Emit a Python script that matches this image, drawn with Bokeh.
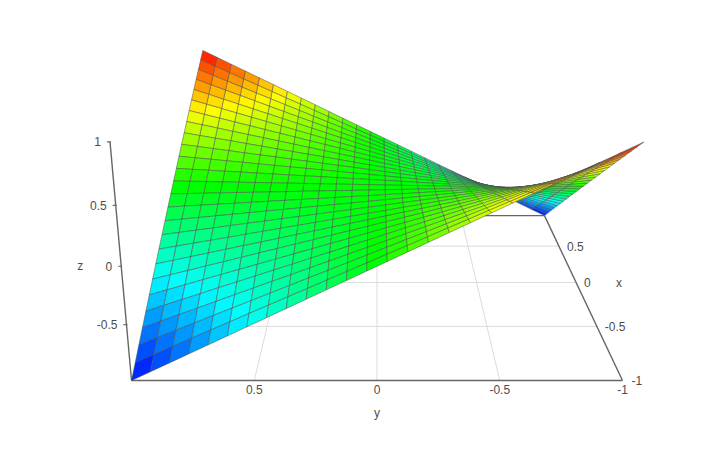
import colorsys
from bokeh.plotting import figure
from bokeh.models import Range1d
from bokeh.core.properties import value
from bokeh.embed import file_html
from bokeh.resources import INLINE

# ---------- data ----------
x_values = [-1, -.92, -.84, -.76, -.68, -.6, -.52, -.44, -.36, -.28, -.2, -.12, -.04,
            .04, .12, .2, .28, .36, .44, .52, .6, .68, .76, .84, .92, 1]
y_values = [-1, -.92, -.84, -.76, -.68, -.6, -.52, -.44, -.36, -.28, -.2, -.12, -.04,
            .04, .12, .2, .28, .36, .44, .52, .6, .68, .76, .84, .92, 1]
z_rows = [
 [1,.92,.84,.76,.68,.6,.52,.44,.36,.28,.2,.12,.04,-.04,-.12,-.2,-.28,-.36,-.44,-.52,-.6,-.68,-.76,-.84,-.92,-1],
 [.92,.846,.773,.699,.626,.552,.478,.405,.331,.258,.184,.11,.037,-.037,-.11,-.184,-.258,-.331,-.405,-.478,-.552,-.626,-.699,-.773,-.846,-.92],
 [.84,.773,.706,.638,.571,.504,.437,.37,.302,.235,.168,.101,.034,-.034,-.101,-.168,-.235,-.302,-.37,-.437,-.504,-.571,-.638,-.706,-.773,-.84],
 [.76,.699,.638,.578,.517,.456,.395,.334,.274,.213,.152,.091,.03,-.03,-.091,-.152,-.213,-.274,-.334,-.395,-.456,-.517,-.578,-.638,-.699,-.76],
 [.68,.626,.571,.517,.462,.408,.354,.299,.245,.19,.136,.082,.027,-.027,-.082,-.136,-.19,-.245,-.299,-.354,-.408,-.462,-.517,-.571,-.626,-.68],
 [.6,.552,.504,.456,.408,.36,.312,.264,.216,.168,.12,.072,.024,-.024,-.072,-.12,-.168,-.216,-.264,-.312,-.36,-.408,-.456,-.504,-.552,-.6],
 [.52,.478,.437,.395,.354,.312,.27,.229,.187,.146,.104,.062,.021,-.021,-.062,-.104,-.146,-.187,-.229,-.27,-.312,-.354,-.395,-.437,-.478,-.52],
 [.44,.405,.37,.334,.299,.264,.229,.194,.158,.123,.088,.053,.018,-.018,-.053,-.088,-.123,-.158,-.194,-.229,-.264,-.299,-.334,-.37,-.405,-.44],
 [.36,.331,.302,.274,.245,.216,.187,.158,.13,.101,.072,.043,.014,-.014,-.043,-.072,-.101,-.13,-.158,-.187,-.216,-.245,-.274,-.302,-.331,-.36],
 [.28,.258,.235,.213,.19,.168,.146,.123,.101,.078,.056,.034,.011,-.011,-.034,-.056,-.078,-.101,-.123,-.146,-.168,-.19,-.213,-.235,-.258,-.28],
 [.2,.184,.168,.152,.136,.12,.104,.088,.072,.056,.04,.024,.008,-.008,-.024,-.04,-.056,-.072,-.088,-.104,-.12,-.136,-.152,-.168,-.184,-.2],
 [.12,.11,.101,.091,.082,.072,.062,.053,.043,.034,.024,.014,.005,-.005,-.014,-.024,-.034,-.043,-.053,-.062,-.072,-.082,-.091,-.101,-.11,-.12],
 [.04,.037,.034,.03,.027,.024,.021,.018,.014,.011,.008,.005,.002,-.002,-.005,-.008,-.011,-.014,-.018,-.021,-.024,-.027,-.03,-.034,-.037,-.04],
 [-.04,-.037,-.034,-.03,-.027,-.024,-.021,-.018,-.014,-.011,-.008,-.005,-.002,.002,.005,.008,.011,.014,.018,.021,.024,.027,.03,.034,.037,.04],
 [-.12,-.11,-.101,-.091,-.082,-.072,-.062,-.053,-.043,-.034,-.024,-.014,-.005,.005,.014,.024,.034,.043,.053,.062,.072,.082,.091,.101,.11,.12],
 [-.2,-.184,-.168,-.152,-.136,-.12,-.104,-.088,-.072,-.056,-.04,-.024,-.008,.008,.024,.04,.056,.072,.088,.104,.12,.136,.152,.168,.184,.2],
 [-.28,-.258,-.235,-.213,-.19,-.168,-.146,-.123,-.101,-.078,-.056,-.034,-.011,.011,.034,.056,.078,.101,.123,.146,.168,.19,.213,.235,.258,.28],
 [-.36,-.331,-.302,-.274,-.245,-.216,-.187,-.158,-.13,-.101,-.072,-.043,-.014,.014,.043,.072,.101,.13,.158,.187,.216,.245,.274,.302,.331,.36],
 [-.44,-.405,-.37,-.334,-.299,-.264,-.229,-.194,-.158,-.123,-.088,-.053,-.018,.018,.053,.088,.123,.158,.194,.229,.264,.299,.334,.37,.405,.44],
 [-.52,-.478,-.437,-.395,-.354,-.312,-.27,-.229,-.187,-.146,-.104,-.062,-.021,.021,.062,.104,.146,.187,.229,.27,.312,.354,.395,.437,.478,.52],
 [-.6,-.552,-.504,-.456,-.408,-.36,-.312,-.264,-.216,-.168,-.12,-.072,-.024,.024,.072,.12,.168,.216,.264,.312,.36,.408,.456,.504,.552,.6],
 [-.68,-.626,-.571,-.517,-.462,-.408,-.354,-.299,-.245,-.19,-.136,-.082,-.027,.027,.082,.136,.19,.245,.299,.354,.408,.462,.517,.571,.626,.68],
 [-.76,-.699,-.638,-.578,-.517,-.456,-.395,-.334,-.274,-.213,-.152,-.091,-.03,.03,.091,.152,.213,.274,.334,.395,.456,.517,.578,.638,.699,.76],
 [-.84,-.773,-.706,-.638,-.571,-.504,-.437,-.37,-.302,-.235,-.168,-.101,-.034,.034,.101,.168,.235,.302,.37,.437,.504,.571,.638,.706,.773,.84],
 [-.92,-.846,-.773,-.699,-.626,-.552,-.478,-.405,-.331,-.258,-.184,-.11,-.037,.037,.11,.184,.258,.331,.405,.478,.552,.626,.699,.773,.846,.92],
 [-1,-.92,-.84,-.76,-.68,-.6,-.52,-.44,-.36,-.28,-.2,-.12,-.04,.04,.12,.2,.28,.36,.44,.52,.6,.68,.76,.84,.92,1],
]
x_ticks = [.5, 0, -.5, -1]
y_ticks = [.5, 0, -.5, -1]
z_ticks = [-.5, 0, .5, 1]
tick_text = {.5: "0.5", 0: "0", -.5: "-0.5", -1: "-1", 1: "1"}
x_min, x_max, y_min, y_max, z_min, z_max = -1, 1, -1, 1, -1, 1

# ---------- camera (a perspective view, x running away from the viewer) ----------
CX, HW, P, Q, R = 376.5, 199.1, .1889, -.0278, .0049
S0, SX, SZ, SXZ = 282.0, -26.26, -100.35, 1.05

def depth(x, z):
    return 1 + P * x + (Q + R * x) * (z + 1)

def project(x, y, z):
    w = depth(x, z)
    return CX - HW * y / w, (S0 + SX * x + (SZ + SXZ * x) * (z + 1)) / w

def hue_colour(z):
    hue = (1 - (z - z_min) / (z_max - z_min)) * 240 / 360
    r, g, b = colorsys.hsv_to_rgb(hue, 1, 1)
    return "#%02x%02x%02x" % (round(r * 255), round(g * 255), round(b * 255))

# ---------- figure: data space is the page's pixels ----------
p = figure(width=704, height=439, output_backend="svg", toolbar_location=None,
           x_axis_location=None, y_axis_location=None,
           x_range=Range1d(0, 704), y_range=Range1d(439, 0),
           min_border=0, outline_line_color=None, background_fill_color="white")
p.grid.visible = False

GRID, AXIS, TEXT = "#dcdcdc", "#666666", "#4d4d4d"

def seg3d(a, b, color, width):
    (x0, y0), (x1, y1) = project(*a), project(*b)
    p.line([x0, x1], [y0, y1], line_color=color, line_width=width)

for t in x_ticks[:-1]:
    seg3d((t, y_min, z_min), (t, y_max, z_min), GRID, 1)
for t in y_ticks[:-1]:
    seg3d((x_min, t, z_min), (x_max, t, z_min), GRID, 1)

seg3d((x_min, y_min, z_min), (x_min, y_max, z_min), AXIS, 1.4)
seg3d((x_min, y_min, z_min), (x_max, y_min, z_min), AXIS, 1.4)
seg3d((x_max, y_min, z_min), (x_max, y_max, z_min), AXIS, 1.4)
seg3d((x_min, y_max, z_min), (x_max, y_max, z_min), AXIS, 1.4)
seg3d((x_min, y_max, z_min), (x_min, y_max, z_max), AXIS, 1.4)
for t in z_ticks:
    sx, sy = project(x_min, y_max, t)
    p.line([sx - 3, sx + 1], [sy, sy], line_color=AXIS, line_width=1.2)

# surface cells, far ones first
cells = []
for i in range(len(x_values) - 1):
    for j in range(len(y_values) - 1):
        corners = [(x_values[i], y_values[j], z_rows[i][j]),
                   (x_values[i + 1], y_values[j], z_rows[i + 1][j]),
                   (x_values[i + 1], y_values[j + 1], z_rows[i + 1][j + 1]),
                   (x_values[i], y_values[j + 1], z_rows[i][j + 1])]
        avg_z = sum(c[2] for c in corners) / 4
        avg_x = sum(c[0] for c in corners) / 4
        cells.append((depth(avg_x, avg_z), corners, avg_z))
cells.sort(key=lambda c: -c[0])
xs, ys, fills = [], [], []
for _, corners, avg_z in cells:
    pts = [project(*c) for c in corners]
    xs.append([q[0] for q in pts])
    ys.append([q[1] for q in pts])
    fills.append(hue_colour(avg_z))
p.patches(xs, ys, fill_color=fills, fill_alpha=1,
          line_color="#4d4d4d", line_alpha=.5, line_width=1)

def label(pos, text, dx, dy, align):
    sx, sy = project(*pos)
    p.text([sx], [sy], text=[text], x_offset=dx, y_offset=dy, text_align=align,
           text_baseline="middle", text_color=TEXT, text_font=value("Liberation Sans"),
           text_font_size="12px")

for t in x_ticks:
    label((t, y_min, z_min), tick_text[t], 9 if t == -1 else 8, 0, "left")
for t in y_ticks:
    label((x_min, t, z_min), tick_text[t], 0, 9, "center")
for t in z_ticks:
    label((x_min, y_max, t), tick_text[t], -9, 0, "right")
label((0, y_min, z_min), "x", 43, 0, "center")
label((x_min, 0, z_min), "y", 0, 32, "center")
label((x_min, y_max, 0), "z", -41, 0, "center")

open("out.html", "w").write(file_html(p, INLINE))
